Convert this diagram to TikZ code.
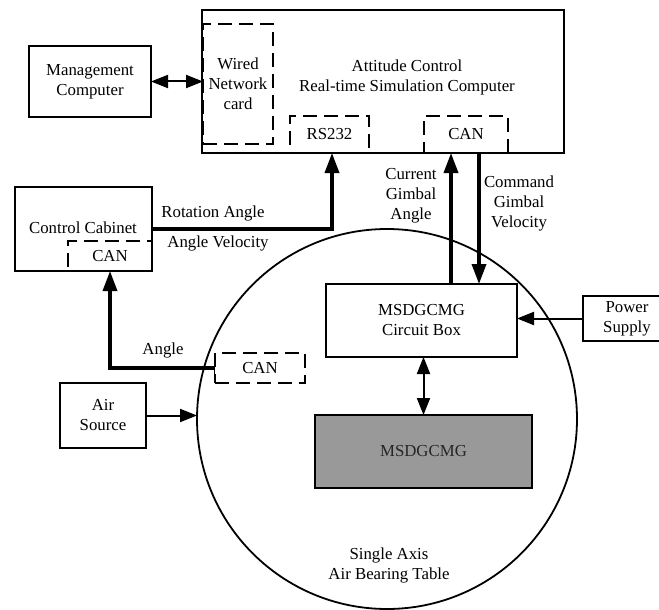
\documentclass[tikz,border=0pt]{standalone}
\usepackage{fontspec}
\setmainfont{Liberation Serif}
\usetikzlibrary{arrows.meta,calc}
\begin{document}
\begin{tikzpicture}[x=1pt,y=-1pt,
  every node/.style={font=\fontsize{16.8}{20}\selectfont, align=center, inner sep=0pt, outer sep=0pt},
  box/.style={draw, line width=1.8pt, rectangle},
  dbox/.style={draw, line width=1.8pt, rectangle, dash pattern=on 14pt off 7pt},
  thick arrow/.style={line width=3.5pt, -{Triangle[length=20pt,width=14pt]}},
  thin arrow/.style={line width=2pt, -{Triangle[length=17pt,width=13pt]}},
  thin both/.style={line width=2pt, {Triangle[length=17pt,width=13pt]}-{Triangle[length=17pt,width=13pt]}},
  lbl/.style={}]
\clip (0,0) rectangle (659,610);
\fill[white] (0,0) rectangle (659,610);
% main computer
\node[box, minimum width=362pt, minimum height=143pt] (acc) at (383,81.5) {};
\node (acctext) at (407,77) {Attitude Control\\Real-time Simulation Computer};
\node[dbox, minimum width=70pt, minimum height=120pt] (wired) at (238,84) {Wired\\Network\\card};
\node[dbox, minimum width=79pt, minimum height=37pt] (rs232) at (329.5,134.5) {RS232};
\node[dbox, minimum width=84pt, minimum height=37pt] (can1) at (466,134.5) {CAN};
% management
\node[box, minimum width=122pt, minimum height=71pt] (mgmt) at (90,81.5) {Management\\Computer};
% control cabinet
\node[box, minimum width=137pt, minimum height=84pt] (cc) at (83.5,229) {};
\node (cctext) at (83,228) {Control Cabinet};
\node[dbox, minimum width=84pt, minimum height=30pt] (cccan) at (110,256) {CAN};
% table
\node[draw, circle, line width=1.8pt, minimum size=380pt] (tbl) at (387,419) {};
\node (tbltext) at (389,565) {Single Axis\\Air Bearing Table};
\node[dbox, minimum width=90pt, minimum height=30pt] (can2) at (260,368) {CAN};
\node[box, fill=white, minimum width=191pt, minimum height=73pt] (cbox) at (421.5,320.5) {MSDGCMG\\Circuit Box};
\node[box, fill=black!40, text=black!85, minimum width=217pt, minimum height=73pt] (msd) at (423.5,451.5) {MSDGCMG};
% air & power
\node[box, minimum width=86pt, minimum height=65pt] (air) at (103,415.5) {Air\\Source};
\node[box, minimum width=88pt, minimum height=45pt] (power) at (627,318.5) {Power\\Supply};
% connectors
\draw[thin both] (mgmt.east) -- (mgmt.east -| wired.west);
\draw[thick arrow] (cc.east) -- ([xshift=2.5pt]rs232.south |- cc.east) -- ([xshift=2.5pt]rs232.south);
\node (rot) at (213,213) {Rotation Angle};
\node (angvel) at (218,243) {Angle Velocity};
\draw[thick arrow] ([xshift=-15pt]can1.south |- cbox.north) -- ([xshift=-15pt]can1.south);
\draw[thick arrow] ([xshift=13pt]can1.south) -- ([xshift=13pt]can1.south |- cbox.north);
\node (cga) at (411,196) {Current\\Gimbal\\Angle};
\node (cgv) at (519,203) {Command\\Gimbal\\Velocity};
\draw[line width=3.5pt, {Bar[width=11pt,line width=1.5pt]}-{Triangle[length=20pt,width=14pt]}] (can2.west) -- (cccan.south |- can2.west) -- (cccan.south);
\node (anglbl) at (163,350) {Angle};
\draw[thin arrow] (air.east) -- (tbl.west |- air.east);
\draw[thin arrow] (power.west) -- (power.west -| cbox.east);
\draw[thin both] (cbox.south -| msd.north) -- (msd.north);
\end{tikzpicture}
\end{document}
